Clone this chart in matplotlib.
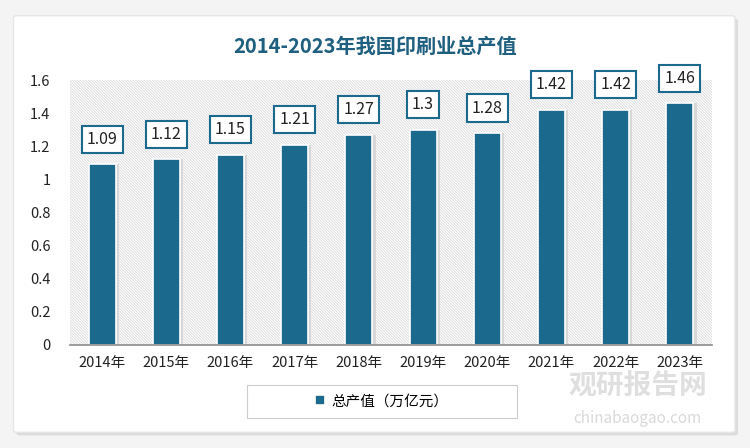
import matplotlib
matplotlib.use("Agg")
import matplotlib.pyplot as plt
from matplotlib.patches import FancyBboxPatch, Rectangle

plt.rcParams['font.family'] = ['Noto Sans CJK SC', 'DejaVu Sans']
plt.rcParams['hatch.linewidth'] = 0.6

years = ['2014年', '2015年', '2016年', '2017年', '2018年',
         '2019年', '2020年', '2021年', '2022年', '2023年']
values = [1.09, 1.12, 1.15, 1.21, 1.27, 1.3, 1.28, 1.42, 1.42, 1.46]
yticks = [0, 0.2, 0.4, 0.6, 0.8, 1, 1.2, 1.4, 1.6]
ytick_labels = ['0', '0.2', '0.4', '0.6', '0.8', '1', '1.2', '1.4', '1.6']

bar_color = '#1b6a8e'
title_color = '#1f5f7f'

fig = plt.figure(figsize=(7.5, 4.48), dpi=100)
fig.patch.set_facecolor('#f4f4f4')

# card background with shadow
shadow = FancyBboxPatch((0.022, 0.028), 0.962, 0.93, boxstyle='round,pad=0,rounding_size=0.005',
                        transform=fig.transFigure, facecolor='#dcdcdc', edgecolor='none', zorder=-2)
card = FancyBboxPatch((0.018, 0.035), 0.962, 0.93, boxstyle='round,pad=0,rounding_size=0.005',
                      transform=fig.transFigure, facecolor='white', edgecolor='#e6e6e6', zorder=-1)
fig.patches.extend([shadow, card])

# legend frame
fig.patches.append(Rectangle((0.329, 0.067), 0.36, 0.074, transform=fig.transFigure,
                             facecolor='white', edgecolor='#cccccc', linewidth=0.8, zorder=-0.5))

ax = fig.add_axes([0.0933, 0.23, 0.856, 0.5914])
ax.set_zorder(1)
ax.set_facecolor('none')
ax.add_patch(Rectangle((0, 0), 1, 1, transform=ax.transAxes, facecolor='white',
                       edgecolor='#d9d9d9', linewidth=0, hatch='\\' * 12, zorder=0))

x = range(len(years))
# faint shadow behind bars
ax.bar([i + 0.05 for i in x], values, width=0.42, color='#c8c8c8', alpha=0.6, zorder=1)
bars = ax.bar(x, values, width=0.42, color=bar_color, edgecolor='white', linewidth=1.2,
              zorder=2, label='总产值（万亿元）')

for i, v in enumerate(values):
    ax.annotate(f'{v:g}', (i, v), xytext=(0, 18), textcoords='offset points',
                ha='center', va='center', fontsize=11.5, color='#222222', zorder=4,
                bbox=dict(boxstyle='square,pad=0.32', facecolor='white',
                          edgecolor=bar_color, linewidth=1.5))

ax.set_xlim(-0.5, len(years) - 0.5)
ax.set_ylim(0, 1.6)
ax.set_yticks(yticks)
ax.set_yticklabels(ytick_labels)
ax.set_xticks(list(x))
ax.set_xticklabels(years)
ax.tick_params(axis='both', length=0, labelsize=10.5, colors='#222222')
ax.tick_params(axis='y', pad=14)
ax.tick_params(axis='x', pad=8)
for side in ['top', 'right', 'left']:
    ax.spines[side].set_visible(False)
ax.spines['bottom'].set_color('#8c8c8c')
ax.spines['bottom'].set_linewidth(1.2)

fig.text(0.5, 0.897, '2014-2023年我国印刷业总产值', ha='center', va='center',
         fontsize=14.5, fontweight='bold', color=title_color)

leg = fig.legend(handles=[bars], loc='center', bbox_to_anchor=(0.509, 0.104),
                 fontsize=10.5, frameon=False, handlelength=0.7,
                 handleheight=0.7, handletextpad=0.4)

# watermark
fig.text(0.85, 0.14, '观研报告网', ha='center', va='center', fontsize=20,
         fontweight='bold', color='#d8d8d8', alpha=0.8, zorder=5)
fig.text(0.85, 0.065, 'chinabaogao.com', ha='center', va='center', fontsize=11,
         color='#d0d0d0', alpha=0.8, zorder=5)

fig.savefig('out.png', dpi=100)
